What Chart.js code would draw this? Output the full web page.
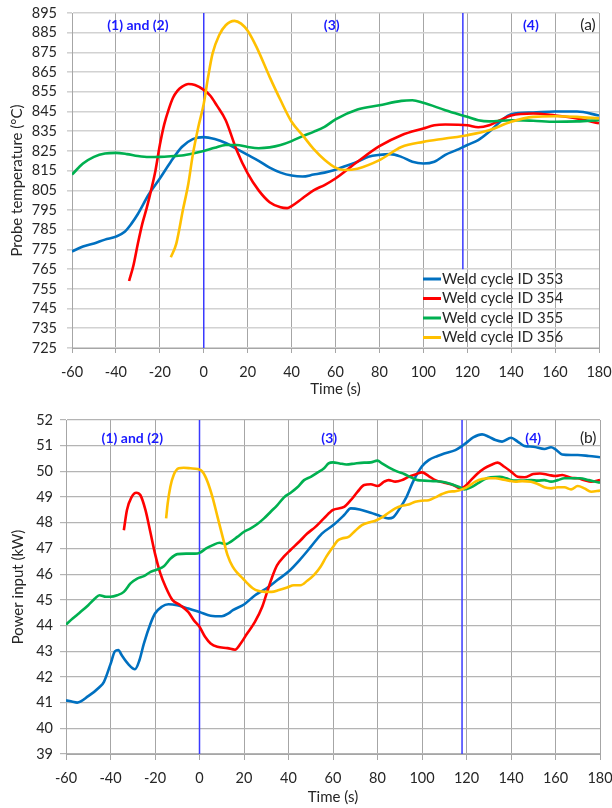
<!DOCTYPE html>
<html><head><meta charset="utf-8">
<script src="https://cdn.jsdelivr.net/npm/chart.js@4.4.1/dist/chart.umd.min.js"></script>
<style>
html,body{margin:0;padding:0;background:#fff;}
#wa{position:absolute;left:0;top:0;width:612px;height:400px;}
#wb{position:absolute;left:0;top:400px;width:612px;height:408px;}
</style></head><body>
<div id="wa"><canvas id="ca"></canvas></div>
<div id="wb"><canvas id="cb"></canvas></div>
<script>
// ---------- shared ----------
const seriesLabels = ['Weld cycle ID 353', 'Weld cycle ID 354', 'Weld cycle ID 355', 'Weld cycle ID 356'];
const timeTicks = [-60, -40, -20, 0, 20, 40, 60, 80, 100, 120, 140, 160, 180];
const phaseTimes = [0, 118];

// ---------- (a) probe temperature ----------
const tempTicks = [725, 735, 745, 755, 765, 775, 785, 795, 805, 815, 825, 835, 845, 855, 865, 875, 885, 895];
const phaseSpanA = [[725, 895], [765, 895]];

const tA353 = [-60,-55,-50,-45,-40,-36,-33,-30,-25,-20,-15,-10,-5,0,5,10,15,20,25,30,35,40,45,50,55,60,65,70,75,80,85,90,95,100,105,110,115,120,125,130,135,140,150,160,170,180];
const vA353 = [774,776.5,778,780,781.5,784,788,793,803,811,819.5,827,831,832,831,829,826,823,820,816.5,814,812.5,812,813,814,815.5,817.5,819.5,822,823,823.4,822,819.5,818.6,819.5,823,825.4,828,830.5,834.7,839.8,843.6,844.5,845,845,843];

const tA354 = [-34,-32,-30,-28,-26,-24,-22,-20,-18,-16,-14,-12,-10,-7,-4,0,3,6,10,15,20,25,30,35,38,40,45,50,55,60,70,80,90,100,105,110,120,125,130,135,140,150,160,170,180];
const vA354 = [759,767,778,788,796,805,815,828,838.5,846,852,855.5,857.5,859,858.5,856,853,848,840.6,825.4,813.6,805,799,796.4,796,797,801,805,807.7,811,819.5,827.4,833,836.4,838,838.4,838,837,838,840.6,843,844,843,841.5,839];

const tA355 = [-60,-55,-50,-45,-40,-35,-30,-25,-20,-15,-10,-5,0,5,10,15,20,25,30,35,40,45,50,55,60,70,80,90,95,100,110,120,125,130,140,150,160,170,180];
const vA355 = [813,818.6,822,823.7,824,823.4,822.4,821.9,822,822.3,822.7,823.7,825,826.6,828,828,827,826.4,826.8,828,830,832.5,834.7,837.2,841,846,848.2,850.4,850.7,849.4,845.7,842.3,840.6,840,840.6,840.3,839.8,840,840.6];

const tA356 = [-15,-12.5,-9.5,-7,-5,-2.5,0,2,4,7,10,14,17,20,24,30,35,40,45,50,55,60,64,70,80,90,100,110,120,130,140,150,160,170,180];
const vA356 = [771,778,795,808.5,823,837,849,862.6,874.4,883.7,888.8,891,889.6,886,877.8,862.6,850.7,839.8,833,826,820.5,816.5,815.3,816,820.3,827,829.6,831.3,833,835.5,839.8,842.3,842.6,842.3,841.5];

// ---------- (b) power input ----------
const powerTicks = [39, 40, 41, 42, 43, 44, 45, 46, 47, 48, 49, 50, 51, 52];

const tB353 = [-60,-57,-55,-50,-45,-43,-40,-38,-36.5,-35,-32,-29,-27,-25,-22,-20,-17,-14,-10,-5,0,5,10,13,15,20,25,30,35,40,45,50,55,60,65,68,72,77,80,83,85,87,90,93,96,100,103,107,110,115,118,120,123,127,130,133,136,140,143,146,150,155,158,160,163,167,170,175,180];
const vB353 = [41.09,41.03,41.0,41.25,41.6,41.8,42.5,43.0,43.05,42.85,42.5,42.3,42.65,43.3,44.08,44.47,44.73,44.83,44.79,44.66,44.53,44.38,44.36,44.47,44.6,44.82,45.18,45.44,45.77,46.1,46.55,47.06,47.58,47.9,48.3,48.56,48.52,48.39,48.3,48.21,48.17,48.21,48.56,49.0,49.6,50.2,50.44,50.6,50.7,50.83,50.99,51.12,51.32,51.44,51.35,51.22,51.16,51.31,51.16,50.99,50.96,50.87,50.94,50.86,50.66,50.64,50.64,50.6,50.55];

const tB354 = [-34,-32.6,-30.6,-28.4,-26.6,-24.3,-22,-20,-17.6,-15.2,-12.2,-8.6,-5.1,-2.5,0,2.5,5,8,12.6,16,18.5,21.4,24.9,28.2,30.4,32.7,34.9,37.9,40.9,44.8,48.4,52.1,55.9,60,65,68,71,74,77,80,83,85,88,91,94,97,100,103,106,110,114,117,119,122,125,128,131,134,137,140,143,146,150,153,157,160,163,167,170,173,176,180];
const vB354 = [47.71,48.5,48.99,49.17,49.08,48.5,47.6,46.8,46.03,45.5,45.0,44.79,44.53,44.2,43.95,43.56,43.3,43.17,43.12,43.06,43.3,43.69,44.14,44.73,45.31,45.9,46.35,46.68,46.94,47.26,47.58,47.84,48.17,48.5,48.62,48.88,49.2,49.47,49.5,49.43,49.6,49.66,49.6,49.66,49.79,49.88,49.96,49.82,49.66,49.56,49.47,49.34,49.4,49.66,49.92,50.12,50.25,50.34,50.18,49.99,49.79,49.77,49.9,49.92,49.86,49.82,49.86,49.75,49.73,49.66,49.6,49.66];

const tB355 = [-60,-57,-54,-50,-47,-45,-42,-40,-37,-34,-31,-28,-25,-22,-19,-16,-13,-10,-6,-2,0,3,6,9,12,14,17,20,23,26,29,32,35,38,41,44,47,50,53,56,58,60,63,66,70,74,77,80,82,85,89,92,95,98,101,105,109,113,117,119,122,125,128,131,135,138,141,145,149,152,155,158,161,164,167,171,175,178,180];
const vB355 = [44.04,44.27,44.49,44.79,45.05,45.18,45.12,45.12,45.18,45.31,45.64,45.83,45.92,46.09,46.18,46.31,46.61,46.78,46.8,46.8,46.83,47.0,47.13,47.22,47.17,47.26,47.45,47.65,47.78,47.95,48.17,48.43,48.69,48.99,49.17,49.38,49.66,49.79,49.95,50.12,50.31,50.35,50.31,50.27,50.31,50.34,50.35,50.42,50.31,50.16,49.99,49.9,49.77,49.66,49.64,49.62,49.6,49.51,49.38,49.3,49.38,49.53,49.69,49.77,49.79,49.73,49.64,49.64,49.66,49.64,49.66,49.6,49.66,49.73,49.73,49.73,49.66,49.6,49.56];

const tB356 = [-15,-14.3,-13.1,-11.6,-9.3,-7.1,-4.1,-0.9,1.3,3.6,5.8,8.1,10.4,12.6,14.9,17.2,19.5,21.9,24.1,26.3,29.4,32.4,35.7,39.4,42.4,45.4,48.4,51.4,54.4,57,60,62,64,67,70,73,76,79,82,85,88,91,94,97,100,103,106,109,112,115,118,121,124,127,130,133,136,139,142,145,149,152,155,158,161,164,167,170,173,176,180];
const vB356 = [48.17,48.75,49.4,49.86,50.12,50.14,50.12,50.09,49.99,49.6,49.01,48.23,47.45,46.74,46.29,46.03,45.83,45.61,45.44,45.35,45.31,45.31,45.38,45.48,45.57,45.57,45.74,45.96,46.29,46.68,47.06,47.3,47.39,47.45,47.69,47.91,48.01,48.08,48.21,48.39,48.56,48.66,48.71,48.82,48.86,48.88,48.99,49.12,49.21,49.23,49.3,49.43,49.6,49.7,49.73,49.73,49.69,49.64,49.6,49.62,49.6,49.51,49.38,49.34,49.38,49.38,49.3,49.43,49.34,49.21,49.25];

// ---------- styling ----------
const colors = ['#0070C0', '#FF0000', '#00B050', '#FFC000'];
const phaseColor = '#3a3aff';
const textColor = '#262626';
const FONT = 'Lato, "Open Sans", sans-serif';
Chart.defaults.font.family = FONT;
Chart.defaults.font.size = 14.5;
Chart.defaults.color = textColor;

const pts = (ts, vs) => ts.map((t, i) => ({x: t, y: vs[i]}));

function seriesSets(list) {
  return list.map((s, i) => ({
    label: seriesLabels[i],
    data: pts(s[0], s[1]),
    borderColor: colors[i],
    backgroundColor: colors[i],
    borderWidth: 2.6,
    pointRadius: 0,
    fill: false,
    cubicInterpolationMode: 'monotone',
    order: 4 - i
  }));
}
function phaseSets(spans) {
  return phaseTimes.map((t, i) => ({
    label: '',
    isPhase: true,
    data: [{x: t, y: spans[i][0]}, {x: t, y: spans[i][1]}],
    borderColor: phaseColor,
    borderWidth: 1.5,
    pointRadius: 0,
    order: 10
  }));
}

function labelPlugin(items) {
  return {
    id: 'regionLabels',
    afterDraw(chart) {
      const ctx = chart.ctx, xs = chart.scales.x, ys = chart.scales.y;
      ctx.save();
      ctx.textAlign = 'center';
      ctx.textBaseline = 'middle';
      items.forEach(it => {
        ctx.font = (it.bold ? 'bold ' : '') + it.size + 'px ' + FONT;
        ctx.fillStyle = it.color;
        ctx.fillText(it.text, xs.getPixelForValue(it.x), ys.getPixelForValue(it.y));
      });
      ctx.restore();
    }
  };
}

function legendPlugin(pos) {
  return {
    id: 'insideLegend',
    afterDraw(chart) {
      const ctx = chart.ctx;
      ctx.save();
      ctx.font = '15px ' + FONT;
      ctx.textBaseline = 'middle';
      ctx.textAlign = 'left';
      let y = pos.y;
      chart.data.datasets.forEach(ds => {
        if (ds.isPhase) return;
        ctx.strokeStyle = ds.borderColor;
        ctx.lineWidth = 3;
        ctx.beginPath();
        ctx.moveTo(pos.x, y);
        ctx.lineTo(pos.x + 18, y);
        ctx.stroke();
        ctx.fillStyle = textColor;
        ctx.fillText(ds.label, pos.x + 19, y);
        y += pos.row;
      });
      ctx.restore();
    }
  };
}

function baseOptions(cfg) {
  return {
    responsive: true,
    maintainAspectRatio: false,
    animation: false,
    devicePixelRatio: 1,
    layout: {padding: cfg.padding},
    plugins: {legend: {display: false}, tooltip: {enabled: false}},
    scales: {
      x: {
        type: 'linear',
        min: -60, max: 180,
        afterBuildTicks: s => { s.ticks = timeTicks.map(v => ({value: v})); },
        afterFit: s => { s.height = cfg.xHeight; s.paddingLeft = 0; s.paddingRight = 0; },
        grid: {color: '#a6a6a6', lineWidth: 1, tickLength: cfg.tick},
        border: {display: true, color: '#a6a6a6'},
        ticks: {padding: cfg.xPad, maxRotation: 0, autoSkip: false, color: textColor},
        title: {display: true, text: 'Time (s)', font: {size: 15}, color: textColor, padding: {top: 0, bottom: 2}}
      },
      y: {
        type: 'linear',
        min: cfg.ymin, max: cfg.ymax,
        afterBuildTicks: s => { s.ticks = cfg.yTicks.map(v => ({value: v})); },
        afterFit: s => { s.width = cfg.yWidth; s.paddingTop = 0; s.paddingBottom = 0; },
        grid: {color: cfg.yGridColor, lineWidth: cfg.yGridWidth, tickLength: cfg.tick},
        border: {display: true, color: '#a6a6a6'},
        ticks: {padding: cfg.yPad, autoSkip: false, color: textColor},
        title: {display: true, text: cfg.yTitle, font: {size: 15}, color: textColor, padding: {top: cfg.yTitlePad, bottom: 0}}
      }
    }
  };
}

// ---------- chart (a) ----------
new Chart(document.getElementById('ca'), {
  type: 'line',
  data: {datasets: seriesSets([[tA353, vA353], [tA354, vA354], [tA355, vA355], [tA356, vA356]]).concat(phaseSets(phaseSpanA))},
  options: baseOptions({
    padding: {top: 13, right: 13, left: 0, bottom: 0},
    xHeight: 52, yWidth: 72, tick: 5, xPad: 11, yPad: 10, yTitlePad: 8,
    ymin: 725, ymax: 895, yTicks: tempTicks,
    yGridColor: '#d2d2d2', yGridWidth: 1.6,
    yTitle: 'Probe temperature (°C)'
  }),
  plugins: [
    labelPlugin([
      {text: '(1) and (2)', x: -30, y: 888.8, bold: true, size: 14, color: '#1a1aff'},
      {text: '(3)', x: 58.3, y: 888.8, bold: true, size: 14, color: '#1a1aff'},
      {text: '(4)', x: 149, y: 888.8, bold: true, size: 14, color: '#1a1aff'},
      {text: '(a)', x: 175, y: 888.8, bold: false, size: 15.5, color: textColor}
    ]),
    legendPlugin({x: 423, y: 279, row: 19.5})
  ]
});

// ---------- chart (b) ----------
new Chart(document.getElementById('cb'), {
  type: 'line',
  data: {datasets: seriesSets([[tB353, vB353], [tB354, vB354], [tB355, vB355], [tB356, vB356]]).concat(phaseSets([[39, 52], [39, 52]]))},
  options: baseOptions({
    padding: {top: 20, right: 12, left: 0, bottom: 0},
    xHeight: 54, yWidth: 66, tick: 6, xPad: 10, yPad: 7, yTitlePad: 9,
    ymin: 39, ymax: 52, yTicks: powerTicks,
    yGridColor: '#b4b4b4', yGridWidth: 1.2,
    yTitle: 'Power input (kW)'
  }),
  plugins: [
    labelPlugin([
      {text: '(1) and (2)', x: -30.2, y: 51.3, bold: true, size: 14, color: '#1a1aff'},
      {text: '(3)', x: 58.3, y: 51.3, bold: true, size: 14, color: '#1a1aff'},
      {text: '(4)', x: 150, y: 51.3, bold: true, size: 14, color: '#1a1aff'},
      {text: '(b)', x: 174.7, y: 51.3, bold: false, size: 15.5, color: textColor}
    ])
  ]
});
</script>
</body></html>
